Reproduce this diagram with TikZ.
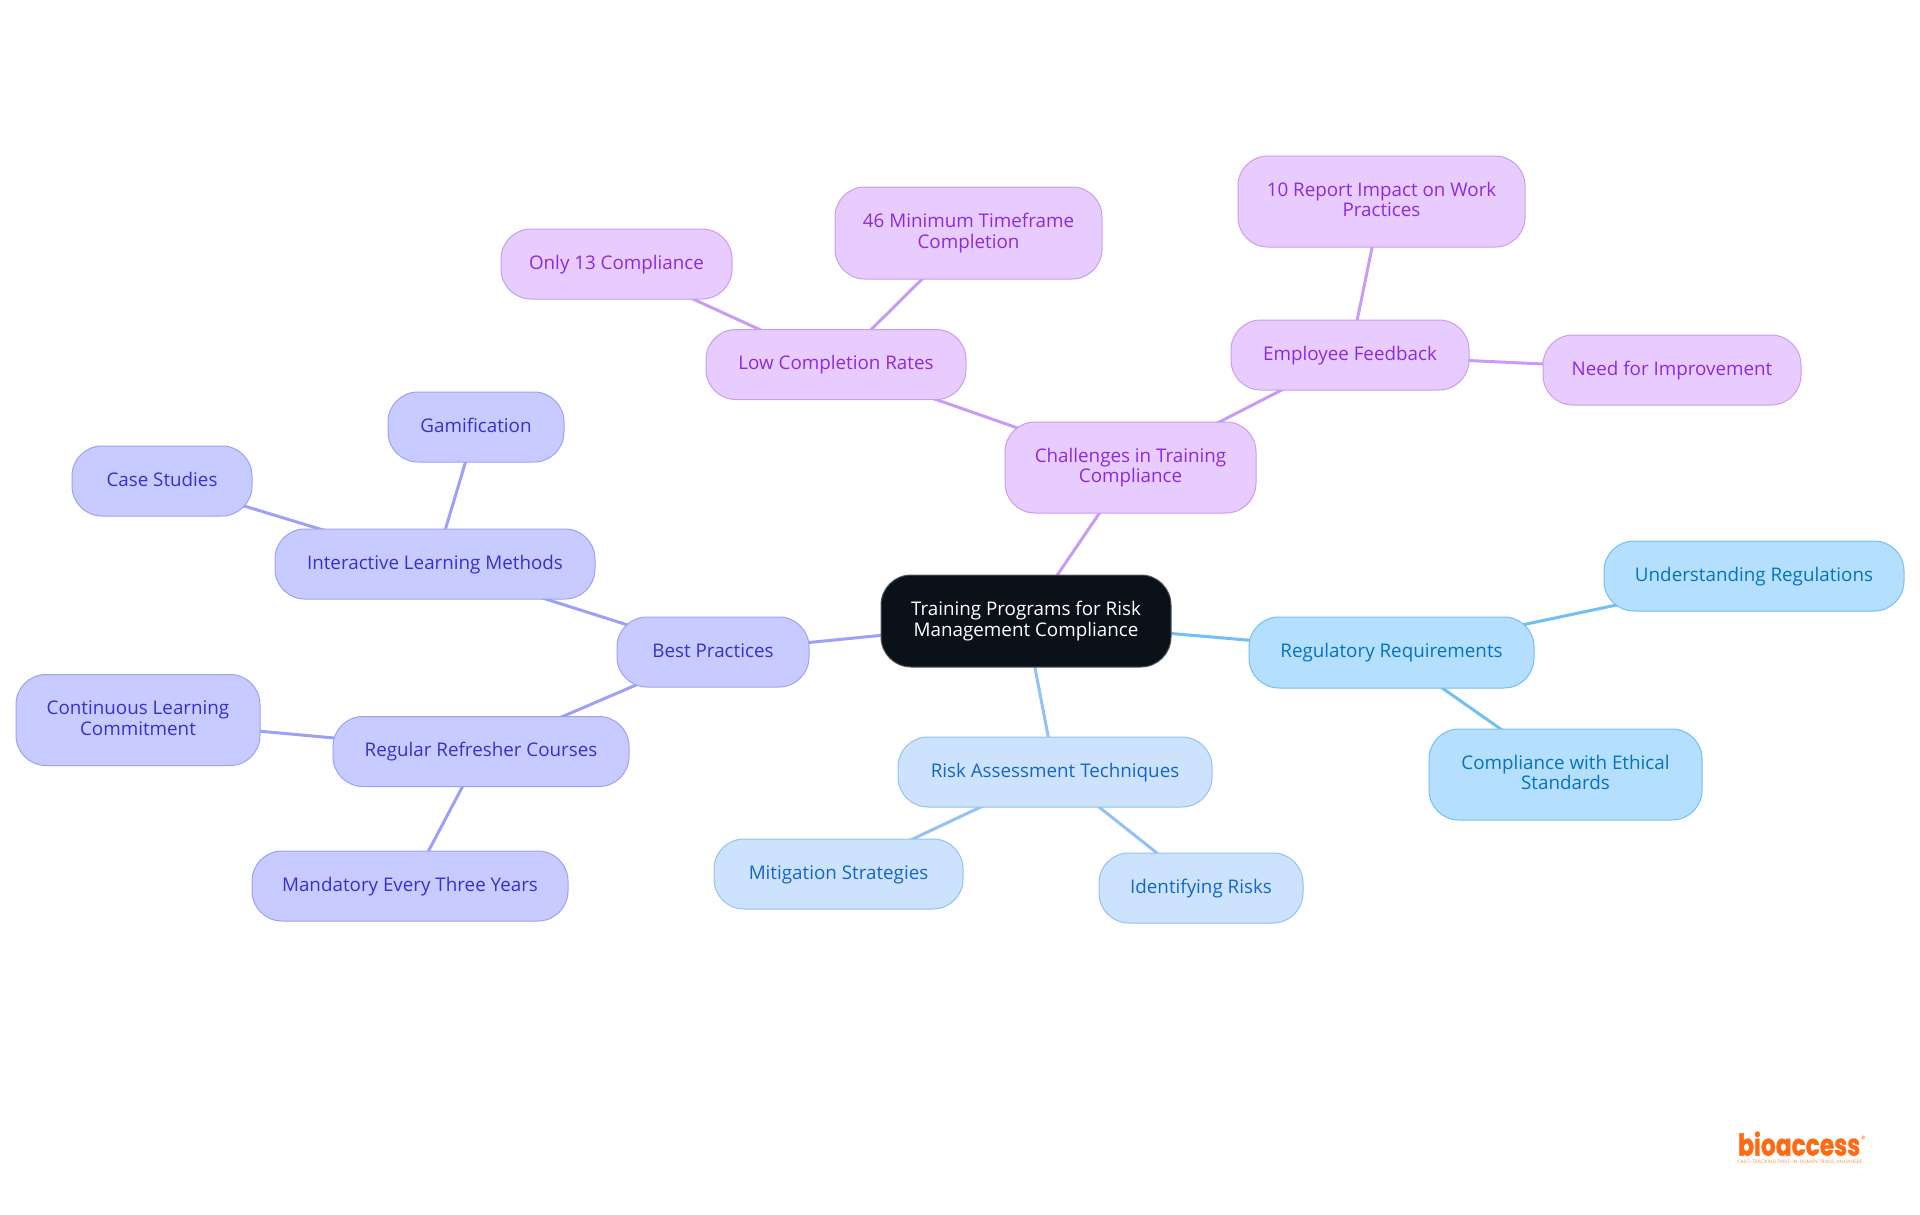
\documentclass[tikz,border=0pt]{standalone}
\usepackage{fontspec}
\setmainfont{Open Sans}
\newfontfamily\logofont[BoldFeatures={FakeBold=1.5}]{Poppins}
\usetikzlibrary{backgrounds}
\definecolor{purF}{HTML}{E9CCFF}\definecolor{purD}{HTML}{C79CF2}\definecolor{purT}{HTML}{8B2BDD}
\definecolor{indF}{HTML}{C8CBFF}\definecolor{indD}{HTML}{9DA0F7}\definecolor{indT}{HTML}{3730CF}
\definecolor{bluF}{HTML}{CDE3FD}\definecolor{bluD}{HTML}{93C1F1}\definecolor{bluT}{HTML}{1565C8}
\definecolor{skyF}{HTML}{B5DFFE}\definecolor{skyD}{HTML}{72BFF3}\definecolor{skyT}{HTML}{0672C0}
\definecolor{rootF}{HTML}{0B1119}\definecolor{logoC}{HTML}{FF6A13}
\tikzset{
  mm/.style={rectangle,rounded corners=30pt,inner sep=0pt,line width=1pt,align=center,
    font=\fontsize{18.8pt}{20.6pt}\selectfont,
    execute at begin node={\rule{0pt}{15.4pt}},
    execute at end node={\rule[-4pt]{0pt}{4pt}}},
  rootn/.style={mm,fill=rootF,draw=rootF!70!white,text=white},
  pur/.style={mm,fill=purF,draw=purD,text=purT},
  ind/.style={mm,fill=indF,draw=indD,text=indT},
  blu/.style={mm,fill=bluF,draw=bluD,text=bluT},
  sky/.style={mm,fill=skyF,draw=skyD,text=skyT},
  link/.style={line width=3pt},
  sz/.style 2 args={minimum width=#1pt,minimum height=#2pt}
}
\begin{document}
\begin{tikzpicture}[x=1pt,y=-1pt]
\useasboundingbox (0,0) rectangle (1920,1215);
\node[rootn,sz={290}{92}] (root) at (1026,621) {Training Programs for Risk\\Management Compliance};
% sky
\node[sky,sz={285}{71}] (reg) at (1391.5,652.5) {Regulatory Requirements};
\node[sky,sz={300}{70}] (und) at (1754,576) {Understanding Regulations};
\node[sky,sz={273}{91}] (eth) at (1565.5,774.5) {Compliance with Ethical\\Standards};
% blue
\node[blu,sz={314}{70}] (risk) at (1055,772) {Risk Assessment Techniques};
\node[blu,sz={249}{70}] (mit) at (838.5,874) {Mitigation Strategies};
\node[blu,sz={204}{70}] (ident) at (1201,888) {Identifying Risks};
% indigo
\node[ind,sz={192}{70}] (best) at (713,652) {Best Practices};
\node[ind,sz={320}{70}] (inter) at (435,564) {Interactive Learning Methods};
\node[ind,sz={176}{70}] (gam) at (476,427) {Gamification};
\node[ind,sz={180}{70}] (cases) at (162,481) {Case Studies};
\node[ind,sz={296}{70}] (refr) at (481,751.5) {Regular Refresher Courses};
\node[ind,sz={244}{91}] (cont) at (138,720) {Continuous Learning\\Commitment};
\node[ind,sz={316}{70}] (mand) at (410,886) {Mandatory Every Three Years};
% purple
\node[pur,sz={251}{91}] (chal) at (1130.5,467.5) {Challenges in Training\\Compliance};
\node[pur,sz={260}{70}] (low) at (836,364.5) {Low Completion Rates};
\node[pur,sz={231}{70}] (only) at (616.5,264) {Only 13 Compliance};
\node[pur,sz={267}{92}] (minT) at (968.5,233) {46 Minimum Timeframe\\Completion};
\node[pur,sz={238}{70}] (emp) at (1350,355) {Employee Feedback};
\node[pur,sz={287}{91}] (rep) at (1381.5,201.5) {10 Report Impact on Work\\Practices};
\node[pur,sz={258}{70}] (need) at (1672,370) {Need for Improvement};
% logo
\node[inner sep=0pt,text=logoC,font=\logofont\bfseries,anchor=south west] (logo) at (1738,1156)
  {\resizebox{122pt}{24pt}{bioaccess}};
\node[inner sep=0pt,text=logoC,font=\logofont\fontsize{9pt}{9pt}\selectfont,anchor=west] (regm) at (1861,1139) {®};
\node[inner sep=0pt,text=logoC!70!white,font=\logofont,anchor=north west] (tag) at (1738,1160)
  {\resizebox{124pt}{!}{FAST-TRACKING FIRST-IN-HUMAN TRIALS, ANYWHERE}};
\begin{scope}[on background layer]
\draw[link,skyD] (root.center) -- (reg.center);
\draw[link,skyD] (reg.center) -- (und.center);
\draw[link,skyD] (reg.center) -- (eth.center);
\draw[link,bluD] (root.center) -- (risk.center);
\draw[link,bluD] (risk.center) -- (mit.center);
\draw[link,bluD] (risk.center) -- (ident.center);
\draw[link,indD] (root.center) -- (best.center);
\draw[link,indD] (best.center) -- (inter.center);
\draw[link,indD] (inter.center) -- (gam.center);
\draw[link,indD] (inter.center) -- (cases.center);
\draw[link,indD] (best.center) -- (refr.center);
\draw[link,indD] (refr.center) -- (cont.center);
\draw[link,indD] (refr.center) -- (mand.center);
\draw[link,purD] (root.center) -- (chal.center);
\draw[link,purD] (chal.center) -- (low.center);
\draw[link,purD] (low.center) -- (only.center);
\draw[link,purD] (low.center) -- (minT.center);
\draw[link,purD] (chal.center) -- (emp.center);
\draw[link,purD] (emp.center) -- (rep.center);
\draw[link,purD] (emp.center) -- (need.center);
\end{scope}
\end{tikzpicture}
\end{document}
